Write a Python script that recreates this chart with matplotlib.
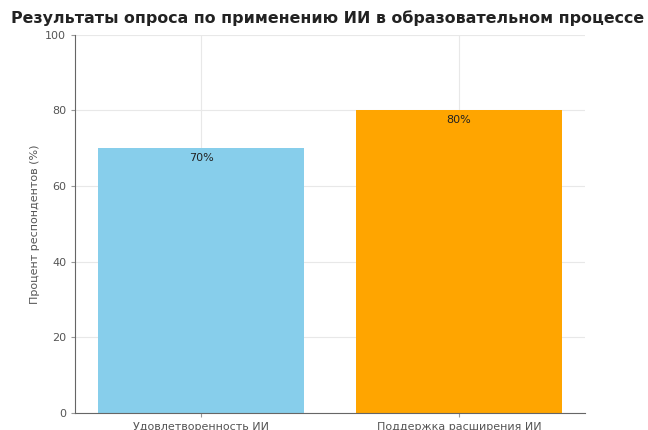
import matplotlib
matplotlib.use("Agg")
import matplotlib.pyplot as plt

categories = ["Удовлетворенность ИИ", "Поддержка расширения ИИ"]
values = [70, 80]
colors = ["#87CEEB", "#FFA500"]
title = "Результаты опроса по применению ИИ в образовательном процессе"
ylabel = "Процент респондентов (%)"

plt.rcParams['font.family'] = ['DejaVu Sans']
fig = plt.figure(figsize=(6.48, 4.30), dpi=100)
ax = fig.add_axes([0.116, 0.04, 0.787, 0.879])

x = list(range(len(categories)))
ax.bar(x, values, width=0.8, color=colors, zorder=2)
for i, v in enumerate(values):
    ax.text(i, v - 1.2, f"{v}%", ha="center", va="top", fontsize=8, color="#222222", zorder=3)

ax.set_ylim(0, 100)
ax.set_xticks(x)
ax.set_xticklabels(categories)
ax.set_ylabel(ylabel, fontsize=8, color="#555555")
fig.text(0.506, 0.958, title, fontsize=11.4, fontweight="bold", ha="center", va="center", color="#222222")
ax.grid(True, color="#e8e8e8", linewidth=0.8, zorder=0)
for s in ["top", "right"]:
    ax.spines[s].set_visible(False)
for s in ["left", "bottom"]:
    ax.spines[s].set_color("#666666")
ax.tick_params(axis="both", labelsize=8, labelcolor="#555555", color="#999999", length=3)

fig.savefig("out.png", dpi=100)
